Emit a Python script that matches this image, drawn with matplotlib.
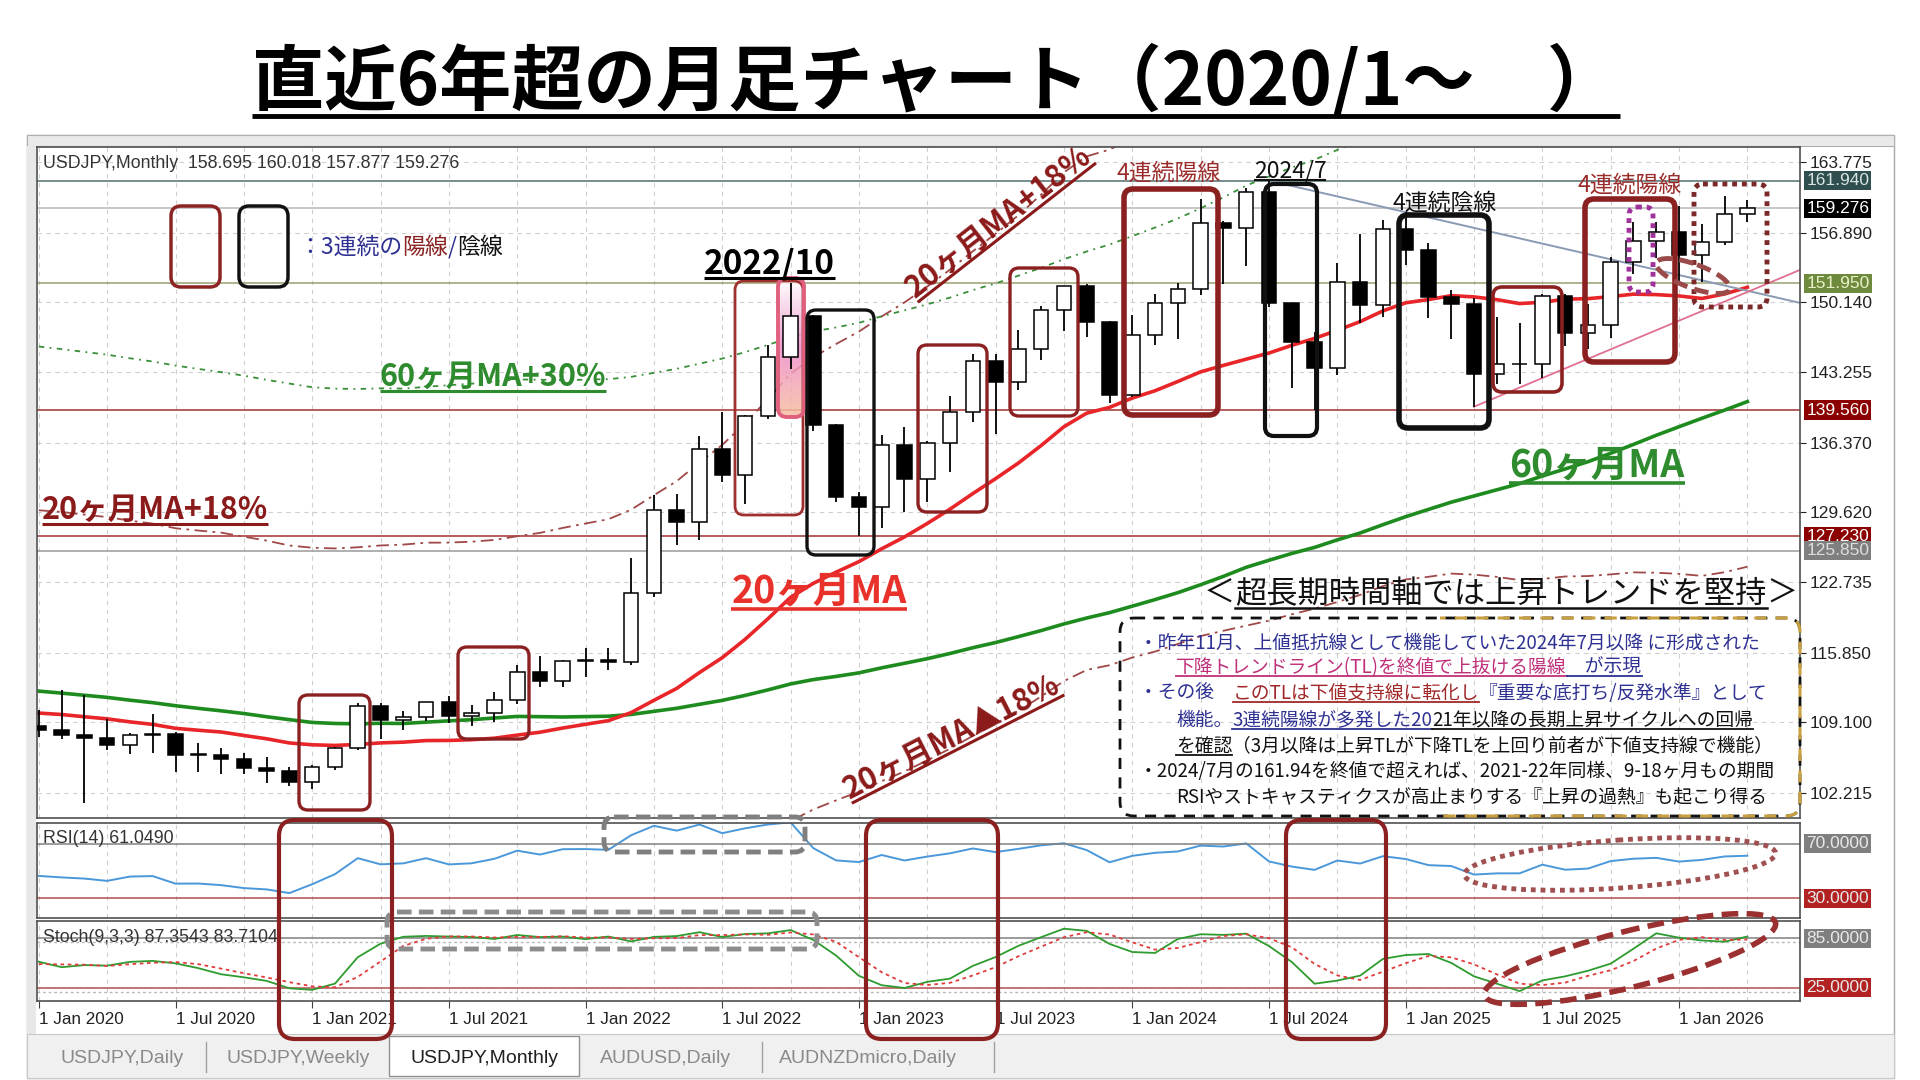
import numpy as np
import matplotlib.pyplot as plt
import matplotlib.transforms as mtransforms
from matplotlib.patches import FancyBboxPatch, Ellipse, Rectangle
from matplotlib.colors import LinearSegmentedColormap

plt.rcParams['font.family'] = ['Noto Sans CJK JP', 'DejaVu Sans']
LAT = ['Liberation Sans', 'DejaVu Sans']

# USDJPY monthly candles, Jan 2020 .. Apr 2026
opens = [108.68, 108.35, 107.89, 107.54, 106.88, 107.83, 107.93, 105.89, 105.91, 105.48,
         104.66, 104.30, 103.25, 104.68, 106.59, 110.72, 109.31, 109.58, 111.10, 109.72,
         110.03, 111.29, 113.95, 113.16, 115.08, 115.12, 114.98, 121.70, 129.84, 128.67,
         135.72, 133.26, 138.96, 144.74, 148.71, 138.06, 131.11, 130.09, 136.19, 132.86,
         136.30, 139.34, 144.31, 142.29, 145.54, 149.37, 151.67, 148.20, 141.04, 146.91,
         149.98, 151.35, 157.80, 157.31, 160.88, 149.98, 146.17, 143.63, 152.03, 149.77,
         157.20, 155.19, 150.63, 149.96, 143.07, 144.02, 144.04, 150.74, 147.05, 147.90,
         154.03, 156.10, 156.90, 154.70, 156.00, 158.695]
highs = [110.30, 112.23, 111.72, 109.38, 108.08, 109.85, 108.16, 107.05, 106.55, 106.11,
         105.68, 104.75, 104.94, 106.69, 110.97, 110.96, 110.20, 111.11, 111.66, 110.80,
         112.08, 114.70, 115.52, 115.20, 116.35, 116.34, 125.10, 131.26, 131.35, 137.00,
         139.39, 139.08, 145.90, 151.95, 148.84, 138.18, 131.58, 137.10, 137.91, 136.56,
         140.93, 145.07, 145.07, 147.37, 149.71, 151.72, 151.91, 148.30, 148.81, 150.89,
         151.97, 160.21, 157.99, 161.27, 161.95, 150.04, 147.21, 153.88, 156.75, 158.08,
         158.88, 155.89, 151.30, 150.49, 148.65, 148.03, 150.92, 150.91, 149.96, 154.48,
         157.89, 157.90, 159.50, 157.70, 160.45, 160.018]
lows = [107.65, 107.50, 101.18, 106.36, 105.99, 106.07, 104.19, 104.19, 104.00, 104.03,
        103.18, 102.88, 102.59, 104.41, 106.37, 107.48, 108.34, 109.19, 109.06, 108.72,
        109.11, 110.82, 112.53, 112.55, 113.47, 114.15, 114.65, 121.28, 126.36, 126.87,
        132.50, 130.40, 138.72, 143.53, 137.50, 130.57, 127.23, 128.08, 129.64, 130.63,
        133.50, 138.43, 137.24, 141.51, 144.44, 147.30, 146.67, 140.25, 140.81, 145.90,
        146.48, 150.81, 151.86, 153.60, 149.62, 141.68, 139.58, 142.97, 148.02, 148.65,
        153.72, 148.56, 146.54, 139.89, 142.12, 142.11, 142.68, 145.85, 145.49, 146.58,
        152.82, 154.40, 152.00, 152.10, 155.70, 157.877]
closes = [108.35, 107.89, 107.54, 106.88, 107.83, 107.93, 105.89, 105.91, 105.48, 104.66,
          104.30, 103.25, 104.68, 106.59, 110.72, 109.31, 109.58, 111.10, 109.72, 110.03,
          111.29, 113.95, 113.16, 115.08, 115.12, 114.98, 121.70, 129.84, 128.67, 135.72,
          133.26, 138.96, 144.74, 148.71, 138.06, 131.11, 130.09, 136.19, 132.86, 136.30,
          139.34, 144.31, 142.29, 145.54, 149.37, 151.67, 148.20, 141.04, 146.91, 149.98,
          151.35, 157.80, 157.31, 160.88, 149.98, 146.17, 143.63, 152.03, 149.77, 157.20,
          155.19, 150.63, 149.96, 143.07, 144.02, 144.04, 150.74, 147.05, 147.90, 154.03,
          156.10, 156.90, 154.70, 156.00, 158.70, 159.276]

# monthly closes Jan 2015 .. Dec 2019 (warm-up for MA / RSI)
closes_prev = [117.5, 119.6, 120.1, 119.4, 124.1, 122.5, 123.9, 121.2, 119.9, 120.6, 123.1, 120.2,
               121.1, 112.7, 112.6, 106.3, 110.7, 103.2, 102.1, 103.4, 101.3, 104.8, 114.5, 117.0,
               112.8, 112.8, 111.4, 111.5, 110.8, 112.4, 110.3, 110.0, 112.5, 113.6, 112.5, 112.7,
               109.2, 106.7, 106.3, 109.3, 108.8, 110.7, 111.9, 111.0, 113.7, 112.9, 113.5, 109.7,
               108.9, 111.4, 110.8, 111.4, 108.3, 107.8, 108.8, 106.3, 108.1, 108.0, 109.5, 108.6]
# highs / lows of 2019 (warm-up for the stochastic)
highs_2019 = [110.0, 111.5, 112.1, 112.4, 111.7, 108.8, 109.0, 109.3, 108.5, 109.3, 109.7, 109.7]
lows_2019 = [104.7, 108.5, 109.7, 110.8, 108.3, 106.8, 107.2, 104.45, 105.75, 105.9, 107.9, 108.4]

x_labels = ['1 Jan 2020', '1 Jul 2020', '1 Jan 2021', '1 Jul 2021', '1 Jan 2022', '1 Jul 2022',
            '1 Jan 2023', '1 Jul 2023', '1 Jan 2024', '1 Jul 2024', '1 Jan 2025', '1 Jul 2025',
            '1 Jan 2026']
price_ticks = [163.775, 156.890, 150.140, 143.255, 136.370, 129.620, 122.735, 115.850, 109.100, 102.215]
levels = [161.940, 159.276, 151.950, 139.560, 127.230, 125.850]
level_line_colors = ['#4F6F6F', '#B8B8B8', '#9AA070', '#A03030', '#A03030', '#9A9A9A']
level_box_colors = ['#2F4F4F', '#000000', '#6E8B3D', '#8B0000', '#8B0000', '#7F7F7F']
level_text_colors = ['#D8E4E4', 'white', '#E8F0C8', 'white', 'white', '#DDDDDD']
tab_names = ['USDJPY,Daily', 'USDJPY,Weekly', 'USDJPY,Monthly', 'AUDUSD,Daily', 'AUDNZDmicro,Daily']

# ---- indicators
n = len(closes)
o, h, l, c = map(np.array, (opens, highs, lows, closes))
all_c = np.array(closes_prev + closes)
off = len(closes_prev)


def sma(arr, p):
    return np.array([arr[off + i - p + 1: off + i + 1].mean() for i in range(n)])


ma20 = sma(all_c, 20)
ma60 = sma(all_c, 60)

d = np.diff(all_c)
gain, loss = np.clip(d, 0, None), np.clip(-d, 0, None)
ag, al = gain[:14].mean(), loss[:14].mean()
rsi_all = np.full(len(all_c), np.nan)
rsi_all[14] = 100 - 100 / (1 + ag / al)
for k in range(15, len(all_c)):
    ag = (ag * 13 + gain[k - 1]) / 14
    al = (al * 13 + loss[k - 1]) / 14
    rsi_all[k] = 100 - 100 / (1 + ag / al)
rsi = rsi_all[off:]

H = np.array(highs_2019 + highs)
L = np.array(lows_2019 + lows)
C = np.array(closes_prev[-12:] + closes)
num = np.full(len(C), np.nan)
den = np.full(len(C), np.nan)
for j in range(8, len(C)):
    ll, hh = L[j - 8:j + 1].min(), H[j - 8:j + 1].max()
    num[j], den[j] = C[j] - ll, hh - ll
sk = np.full(len(C), np.nan)
for j in range(10, len(C)):
    sk[j] = num[j - 2:j + 1].sum() / den[j - 2:j + 1].sum() * 100
sd = np.full(len(C), np.nan)
for j in range(12, len(C)):
    sd[j] = sk[j - 2:j + 1].mean()
stoch_k, stoch_d = sk[12:], sd[12:]

# ---- figure / layout (pixel based)
W, HH = 1920, 1080
fig = plt.figure(figsize=(19.2, 10.8), dpi=100)
fig.patch.set_facecolor('white')


def rect(x0, y0, x1, y1):
    return [x0 / W, 1 - y1 / HH, (x1 - x0) / W, (y1 - y0) / HH]


bg = fig.add_axes([0, 0, 1, 1], zorder=0)
bg.set_xlim(0, W)
bg.set_ylim(HH, 0)
bg.axis('off')
bg.add_patch(Rectangle((27, 135), 1867, 943, fc='white', ec='#A8A8A8', lw=1))
bg.add_patch(Rectangle((27, 135), 1867, 11, fc='#EAEAEA', ec='#B0B0B0', lw=0.8))
bg.add_patch(Rectangle((27, 146), 9, 890, fc='#E8E8E8', ec='none'))
bg.add_patch(Rectangle((27, 1034), 1867, 44, fc='#F0F0F0', ec='#C8C8C8', lw=0.8))

XL = (-0.08, 77.31)
ax = fig.add_axes(rect(37, 147, 1800, 818), zorder=1)
ax_rsi = fig.add_axes(rect(37, 823, 1800, 918), zorder=1)
ax_st = fig.add_axes(rect(37, 921, 1800, 1001), zorder=1)
for a in (ax, ax_rsi, ax_st):
    a.set_xlim(*XL)
    for s in a.spines.values():
        s.set_color('#505050')
        s.set_linewidth(1.2)
    for xg in range(0, 78, 3):
        a.axvline(xg, color='#CFCFCF', lw=0.8, ls=(0, (4, 4)), zorder=0)
ax.set_ylim(99.74, 165.24)
ax_rsi.set_ylim(15.5, 85.0)
ax_st.set_ylim(9.0, 106.0)

ov = fig.add_axes([0, 0, 1, 1], zorder=10)
ov.set_xlim(0, W)
ov.set_ylim(HH, 0)
ov.axis('off')
ov.patch.set_visible(False)
renderer = fig.canvas.get_renderer()

# ---- price panel
ax.yaxis.tick_right()
ax.set_yticks(price_ticks)
ax.set_yticklabels([f'{v:.3f}' for v in price_ticks])
ax.tick_params(axis='y', length=4, labelsize=12.5, pad=3, colors='#222222')
for lab in ax.get_yticklabels():
    lab.set_fontfamily(LAT)
ax.set_xticks([])
for v in price_ticks:
    ax.axhline(v, color='#CFCFCF', lw=0.8, ls=(0, (4, 4)), zorder=0)

ytrans = mtransforms.blended_transform_factory(ax.transAxes, ax.transData)
for lv, lc, bc, tc in zip(levels, level_line_colors, level_box_colors, level_text_colors):
    ax.axhline(lv, color=lc, lw=1.1, zorder=1)
    ax.text(1.0035, lv, f'{lv:.3f}', transform=ytrans, ha='left', va='center', fontsize=12.5,
            family=LAT, color=tc, zorder=20, clip_on=False,
            bbox=dict(boxstyle='square,pad=0.12', fc=bc, ec='none'))

idx = np.arange(n)
ax.plot(idx, ma20 * 1.18, color='#A04848', lw=1.3, ls=(0, (7, 3, 1.5, 3)), zorder=2)
ax.plot(idx, ma20 * 0.82, color='#A04848', lw=1.3, ls=(0, (7, 3, 1.5, 3)), zorder=2)
ax.plot(idx, ma60 * 1.30, color='#3A8F3A', lw=1.3, ls=(0, (3, 3, 1, 3)), zorder=2)
ax.plot(idx, ma60, color='#1E8B1E', lw=2.6, zorder=2)
ax.plot(idx, ma20, color='#E8262A', lw=2.6, zorder=2)

# trend lines: down TL from the 2024/7 high, up TL from the 2025/4 low
tl_dn_i, tl_up_i = 54, 63
tl_dn_slope = (highs[60] - highs[54]) / 6
tl_up_slope = 0.933
xe = XL[1]
ax.plot([tl_dn_i, xe], [highs[tl_dn_i], highs[tl_dn_i] + tl_dn_slope * (xe - tl_dn_i)],
        color='#8A9AB2', lw=1.4, zorder=2)
ax.plot([tl_up_i, xe], [lows[tl_up_i], lows[tl_up_i] + tl_up_slope * (xe - tl_up_i)],
        color='#E07090', lw=1.3, zorder=2)


def to_data(xp, yp):
    return ax.transData.inverted().transform(ov.transData.transform((xp, yp)))


# 2022/10 highlight (gradient box under the candle)
gx0, gy0 = to_data(778, 417)
gx1, gy1 = to_data(804, 278)
pk = LinearSegmentedColormap.from_list('pk', ['#FFFFFF', '#F6C8E4', '#EE8CCB', '#F3A6B8', '#F6C0A0'])
im = ax.imshow(np.linspace(0, 1, 100).reshape(-1, 1), extent=[gx0, gx1, gy0, gy1], origin='upper',
               cmap=pk, aspect='auto', zorder=2.5, alpha=0.85)
clip = FancyBboxPatch((778, 278), 26, 139, boxstyle='round,pad=0,rounding_size=9', transform=ov.transData)
im.set_clip_path(clip)

up = c >= o
ax.vlines(idx, l, h, color='black', lw=1.3, zorder=3)
ax.bar(idx, np.maximum(np.abs(c - o), 0.05), bottom=np.minimum(o, c), width=0.64,
       color=np.where(up, 'white', 'black'), edgecolor='black', lw=1.1, zorder=4)
ax.set_xlim(*XL)
ax.set_ylim(99.74, 165.24)

# ---- RSI panel
ax_rsi.plot(idx, rsi, color='#4A98DA', lw=1.4)
ax_rsi.axhline(70, color='#808080', lw=1.1)
ax_rsi.axhline(30, color='#B05050', lw=1.1)
ax_rsi.set_xticks([])
ax_rsi.set_yticks([])
rtrans = mtransforms.blended_transform_factory(ax_rsi.transAxes, ax_rsi.transData)
stt = mtransforms.blended_transform_factory(ax_st.transAxes, ax_st.transData)
for tr, lv, bc in ((rtrans, 70, '#7F7F7F'), (rtrans, 30, '#B22222'), (stt, 85, '#7F7F7F'), (stt, 25, '#B22222')):
    ax_rsi.text(1.0035, lv, f'{lv:.4f}', transform=tr, ha='left', va='center', fontsize=12.5, family=LAT,
                color='#E8E8E8', zorder=20, clip_on=False, bbox=dict(boxstyle='square,pad=0.12', fc=bc, ec='none'))

# ---- Stochastic panel
ax_st.axhline(85, color='#808080', lw=1.1)
ax_st.axhline(25, color='#B05050', lw=1.1)
ax_st.axhline(80, color='#B8B8B8', lw=1.0, ls=(0, (2, 2)))
ax_st.axhline(20, color='#B8B8B8', lw=1.0, ls=(0, (2, 2)))
ax_st.plot(idx, stoch_k, color='#2E9B2E', lw=1.3)
ax_st.plot(idx, stoch_d, color='#E03C3C', lw=1.3, ls=(0, (2, 2)))
ax_st.set_yticks([])
ax_st.set_xticks(range(0, 73, 6))
ax_st.set_xticklabels(x_labels, ha='left', fontsize=12.3, family=LAT, color='#222222')
ax_st.tick_params(axis='x', length=5, pad=3, color='#404040')


# ---- overlay helpers
def text_w(s, size, weight='normal', family=None):
    t = ov.text(0, 0, s, fontsize=size, weight=weight, family=family)
    w = t.get_window_extent(renderer).width
    t.remove()
    return w


def utext(x, y, s, size, color, weight='normal', rot=0, ul=True, lw=2.2, family=None):
    ov.text(x, y, s, fontsize=size, color=color, weight=weight, rotation=rot, rotation_mode='anchor',
            ha='center', va='baseline', zorder=12, family=family)
    if ul:
        w = text_w(s, size, weight, family)
        offp = 0.15 * size * 100 / 72
        th = np.radians(rot)
        u = np.array([np.cos(th), -np.sin(th)])
        nv = np.array([np.sin(th), np.cos(th)])
        p0 = np.array([x, y]) - w / 2 * u + offp * nv
        p1 = np.array([x, y]) + w / 2 * u + offp * nv
        ov.plot([p0[0], p1[0]], [p0[1], p1[1]], color=color, lw=lw, solid_capstyle='butt', zorder=12)


def rich(x, y, parts, size, lw=1.3):
    for s, col, ul in parts:
        ov.text(x, y, s, fontsize=size, color=col, ha='left', va='baseline', zorder=12)
        w = text_w(s, size)
        if ul:
            yy = y + 0.15 * size * 100 / 72
            ov.plot([x, x + w], [yy, yy], color=col, lw=lw, zorder=12)
        x += w


def rbox(x0, y0, x1, y1, color, lw, ls='-', r=9, z=8):
    p = FancyBboxPatch((x0, y0), x1 - x0, y1 - y0, boxstyle=f'round,pad=0,rounding_size={r}',
                       fc='none', ec=color, lw=lw, ls=ls, zorder=z, clip_on=False)
    ov.add_patch(p)
    return p


# title
utext(936, 105, '直近6年超の月足チャート（2020/1～　）', 52, 'black', weight='bold', lw=3.5)

# panel headers
hdr = dict(fontsize=12.8, family=LAT, color='#333333', va='baseline')
ov.text(43, 168, f'USDJPY,Monthly  {opens[-1]:.3f} {highs[-1]:.3f} {lows[-1]:.3f} {closes[-1]:.3f}', **hdr)
ov.text(43, 843, 'RSI(14) 61.0490', **hdr)
ov.text(43, 942, 'Stoch(9,3,3) 87.3543 83.7104', **hdr)

# legend
rbox(171, 206, 220, 287, '#8B2323', 2.5, r=10)
rbox(239, 206, 288, 287, '#111111', 2.5, r=10)
navy = '#2E3192'
rich(298, 254, [('：3連続の', navy, False), ('陽線', '#8B2323', False), ('/', navy, False),
                ('陰線', '#111111', False)], 16.5)

# candle group boxes
dred = '#8B2020'
rbox(299, 695, 370, 810, dred, 2.4)
rbox(458, 647, 529, 739, dred, 2.4)
rbox(735, 281, 803, 515, '#A03030', 2.0)
rbox(778, 278, 804, 417, '#E0607E', 2.8, r=9)
rbox(807, 310, 874, 555, '#111111', 2.4)
rbox(918, 345, 987, 512, dred, 2.4)
rbox(1010, 268, 1078, 416, dred, 2.4)
rbox(1124, 189, 1218, 415, dred, 4.0)
rbox(1265, 184, 1317, 436, '#111111', 3.0)
rbox(1399, 215, 1489, 428, '#111111', 4.0)
rbox(1493, 287, 1562, 392, dred, 2.6)
rbox(1585, 199, 1675, 362, dred, 4.0)
rbox(1629, 207, 1653, 292, '#A0309A', 3.5, ls=(0, (1, 1)), r=8)
rbox(1694, 184, 1767, 307, '#7B2828', 3.5, ls=(0, (1, 1)), r=9)
ov.add_patch(Ellipse((1693, 276), 78, 24, angle=20, fill=False, ec='#9B4A4A', lw=3.5, ls=(0, (3, 1.5)), zorder=8))

# chart labels
utext(769, 273, '2022/10', 24, 'black', weight='bold')
utext(493, 386, '60ヶ月MA+30%', 22, '#2E8B2E', weight='bold')
utext(155, 519, '20ヶ月MA+18%', 22, '#8B1A1A', weight='bold')
utext(1004, 229, '20ヶ月MA+18%', 22, '#8B1A1A', weight='bold', rot=38)
utext(819, 603, '20ヶ月MA', 27, '#E8312A', weight='bold', lw=2.6)
utext(1597, 477, '60ヶ月MA', 27, '#2E8B2E', weight='bold', lw=2.6)
utext(956, 745, '20ヶ月MA▲18%', 22, '#8B1A1A', weight='bold', rot=27)
utext(1169, 180, '4連続陽線', 16.5, '#9B2C2C', ul=False)
utext(1290, 177, '2024/7', 16.5, '#111111', lw=1.5)
utext(1445, 210, '4連続陰線', 16.5, '#111111', ul=False)
utext(1630, 192, '4連続陽線', 16.5, '#9B2C2C', ul=False)

rich(1204, 603, [('＜', '#111111', False), ('超長期時間軸では上昇トレンドを堅持', '#111111', True),
                 ('＞', '#111111', False)], 22.5, lw=1.8)

# commentary box (black dashed, gold on the right part)
rbox(1120, 618, 1800, 816, '#111111', 2.0, ls=(0, (4, 3)), r=14)
gold = rbox(1120, 618, 1800, 816, '#C8A040', 2.2, ls=(0, (4, 3)), r=14, z=9)
gold.set_clip_on(True)
gold.set_clip_path(Rectangle((1440, 600), 400, 230, transform=ov.transData))
pink_t, red_t, blk = '#C0307A', '#A02828', '#111111'
fs = 13.5
rich(1139, 648, [('・昨年11月、上値抵抗線として機能していた2024年7月以降 に形成された', navy, False)], fs)
rich(1176, 673, [('下降トレンドライン(TL)を終値で上抜ける陽線', pink_t, True), ('　が示現', navy, True)], fs)
rich(1139, 699, [('・その後　', navy, False), ('このTLは下値支持線に転化し', red_t, True),
                 ('『重要な底打ち/反発水準』として', navy, False)], fs)
rich(1176, 726, [('機能。', navy, False), ('3連続陽線が多発した20', navy, True),
                 ('21年以降の長期上昇サイクルへの回帰', blk, True)], fs)
rich(1176, 752, [('を確認', blk, True), ('（3月以降は上昇TLが下降TLを上回り前者が下値支持線で機能）', blk, False)], fs)
rich(1139, 777, [('・2024/7月の161.94を終値で超えれば、2021-22年同様、9-18ヶ月もの期間', blk, False)], fs)
rich(1176, 803, [('RSIやストキャスティクスが高止まりする『上昇の過熱』も起こり得る', blk, False)], fs)

# oscillator annotations
rbox(604, 817, 805, 852, '#7F7F7F', 3.5, ls=(0, (3, 1.5)), r=10)
rbox(387, 912, 817, 949, '#8C8C8C', 3.5, ls=(0, (3, 1.5)), r=10)
for x0, x1 in ((279, 392), (866, 998), (1286, 1386)):
    rbox(x0, 820, x1, 1039, '#8B2020', 3.0, r=16)
ov.add_patch(Ellipse((1620, 864), 312, 48, angle=-4, fill=False, ec='#A05050', lw=3.5, ls=(0, (1, 1)), zorder=8))
ov.add_patch(Ellipse((1630, 959), 300, 56, angle=-14, fill=False, ec='#9B3030', lw=4, ls=(0, (3, 1.5)), zorder=8))

# bottom tabs
ov.add_patch(Rectangle((389, 1036), 190, 40, fc='white', ec='#909090', lw=1, zorder=5))
for name, tx in zip(tab_names, (61, 227, 410, 600, 779)):
    ov.text(tx, 1063, name, fontsize=14, family=LAT, va='baseline',
            color='#202020' if name == 'USDJPY,Monthly' else '#8A8A8A', zorder=6)
for sx in (206, 762, 994):
    ov.plot([sx, sx], [1042, 1072], color='#A0A0A0', lw=1, zorder=6)

fig.savefig('out.png', dpi=100, facecolor='white')
